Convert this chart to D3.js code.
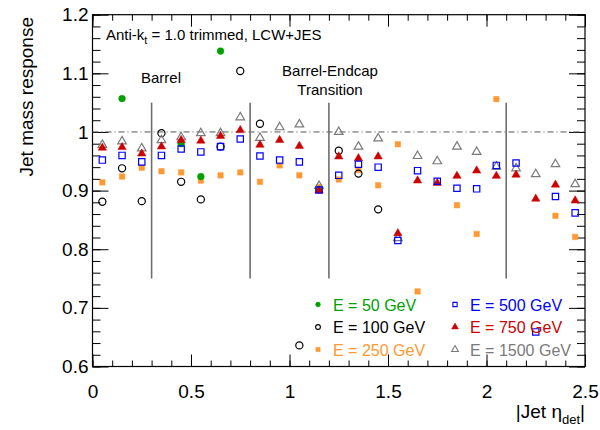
<!DOCTYPE html>
<html>
<head>
<meta charset="utf-8">
<script src="https://cdn.jsdelivr.net/npm/d3@7"></script>
<style>
  body { margin: 0; background: #fff; }
  svg { display: block; font-family: "Liberation Sans", Arial, sans-serif; }
</style>
</head>
<body>
<svg id="chart" width="600" height="430"></svg>
<script>
// ---- Data ----
const etaBins = [0.05,0.15,0.25,0.35,0.45,0.55,0.65,0.75,0.85,0.95,1.05,1.15,1.25,1.35,1.45,1.55,1.65,1.75,1.85,1.95,2.05,2.15,2.25,2.35,2.45];
const e50   = [null,1.057,null,null,0.980,0.924,1.138,null,null,null,null,0.902,null,null,null,null,null,null,null,null,null,null,null,null,null];
const e100  = [0.881,0.938,0.882,0.998,0.915,0.885,0.975,1.104,1.014,null,0.636,null,0.968,0.929,0.868,null,null,null,null,null,null,null,null,null,null];
const e250  = [0.914,0.924,0.939,0.933,0.931,0.917,0.926,0.931,0.915,0.943,0.926,0.906,0.919,0.935,0.909,0.979,0.728,null,0.875,0.826,1.056,null,null,0.857,0.821];
const e500  = [0.952,0.960,0.949,0.960,0.971,0.966,0.975,0.988,0.959,0.952,0.949,0.901,0.926,0.945,0.940,0.815,0.934,0.916,0.904,0.903,0.943,0.947,0.659,0.890,0.862];
const e750  = [0.973,0.974,0.963,0.975,0.986,0.985,0.993,1.003,0.978,0.986,0.976,0.900,0.958,0.955,0.958,0.827,0.917,0.913,0.925,0.934,0.925,0.927,0.886,0.910,0.883];
const e1500 = [0.978,0.984,0.972,0.986,0.991,0.998,0.998,1.025,0.990,1.008,1.013,0.908,1.000,0.975,0.989,0.819,0.959,0.950,0.975,0.966,0.941,0.938,0.928,0.945,0.911];
const seriesNames = ["E = 50 GeV","E = 100 GeV","E = 250 GeV","E = 500 GeV","E = 750 GeV","E = 1500 GeV"];
const regionBounds = [0.3, 0.8, 1.2, 2.1];
const xTicks = [0, 0.5, 1, 1.5, 2, 2.5];
const yTicks = [0.6, 0.7, 0.8, 0.9, 1.0, 1.1, 1.2];

// ---- Layout ----
const svg = d3.select("#chart");
const x = d3.scaleLinear().domain([0, 2.5]).range([92.5, 585]);
const y = d3.scaleLinear().domain([0.6, 1.2]).range([366.5, 14.7]);
const X0 = x.range()[0], X1 = x.range()[1], Y0 = y.range()[0], Y1 = y.range()[1];

// Axes (ticks inward, ROOT style)
const fmt = d => d3.format("")(+d.toFixed(1)).toString();
const xMinor = d3.range(0, 2.5001, 0.1);
const yMinor = d3.range(0.6, 1.2001, 0.02);

function axisGroup(axis, tx, ty, cls) {
  const g = svg.append("g").attr("transform", `translate(${tx},${ty})`).call(axis);
  g.select(".domain").remove();
  g.selectAll("line").attr("stroke", "#000").attr("stroke-width", 1);
  return g;
}
// bottom
axisGroup(d3.axisBottom(x).tickValues(xMinor).tickSize(-6).tickFormat(""), 0, Y0);
const gb = axisGroup(d3.axisBottom(x).tickValues(xTicks).tickSize(-12).tickPadding(18).tickFormat(d => String(d)), 0, Y0);
gb.selectAll("text").attr("font-size", 19).attr("fill", "#000").attr("font-family", "Liberation Sans, Arial, sans-serif");
// top
axisGroup(d3.axisTop(x).tickValues(xMinor).tickSize(-6).tickFormat(""), 0, Y1);
axisGroup(d3.axisTop(x).tickValues(xTicks).tickSize(-12).tickFormat(""), 0, Y1);
// left
axisGroup(d3.axisLeft(y).tickValues(yMinor).tickSize(-8).tickFormat(""), X0, 0);
const gl = axisGroup(d3.axisLeft(y).tickValues(yTicks).tickSize(-16).tickPadding(4).tickFormat(d => String(+d.toFixed(1))), X0, 0);
gl.selectAll("text").attr("font-size", 19).attr("fill", "#000").attr("font-family", "Liberation Sans, Arial, sans-serif");
// right
axisGroup(d3.axisRight(y).tickValues(yMinor).tickSize(-8).tickFormat(""), X1, 0);
axisGroup(d3.axisRight(y).tickValues(yTicks).tickSize(-16).tickFormat(""), X1, 0);

// frame
svg.append("rect").attr("x", X0).attr("y", Y1).attr("width", X1 - X0).attr("height", Y0 - Y1)
  .attr("fill", "none").attr("stroke", "#000").attr("stroke-width", 1.2);

// reference line at 1
svg.append("line").attr("x1", x(0)).attr("x2", x(2.5)).attr("y1", y(1)).attr("y2", y(1))
  .attr("stroke", "#555").attr("stroke-width", 1).attr("stroke-dasharray", "6,3,1,3");

// region separators
svg.selectAll(".sep").data(regionBounds).enter().append("line")
  .attr("x1", d => x(d)).attr("x2", d => x(d)).attr("y1", y(1.05)).attr("y2", y(0.75))
  .attr("stroke", "#6e6e6e").attr("stroke-width", 1.6);

// ---- Markers ----
const styles = [
  {data: e50,   color: "#00a000", fill: true,  type: "circle",   size: 36, textColor: "#00a000"},
  {data: e100,  color: "#000000", fill: false, type: "circle",   size: 40, textColor: "#000000"},
  {data: e250,  color: "#ff9933", fill: true,  type: "square",   size: 30, textColor: "#ff9933"},
  {data: e500,  color: "#0000ff", fill: false, type: "square",   size: 40, textColor: "#0000ff"},
  {data: e750,  color: "#cc0000", fill: true,  type: "triangle", size: 30, textColor: "#cc0000"},
  {data: e1500, color: "#7a7a7a", fill: false, type: "triangle", size: 32, textColor: "#7a7a7a"}
];
const symType = {circle: d3.symbolCircle, square: d3.symbolSquare, triangle: d3.symbolTriangle};

// draw order: so 1500 and 750 appear on top like reference
const order = [2, 1, 0, 5, 4, 3];
order.forEach(i => {
  const s = styles[i];
  const pts = etaBins.map((e, k) => ({e, v: s.data[k]})).filter(p => p.v !== null);
  svg.append("g").selectAll("path").data(pts).enter().append("path")
    .attr("d", d3.symbol().type(symType[s.type]).size(s.size)())
    .attr("transform", d => `translate(${x(d.e)},${y(d.v)})`)
    .attr("fill", s.fill ? s.color : "none")
    .attr("stroke", s.color)
    .attr("stroke-width", s.fill ? 0.5 : 1.2);
});

// ---- Text ----
const t1 = svg.append("text").attr("x", 106).attr("y", 40).attr("font-size", 15).attr("fill", "#000");
t1.append("tspan").text("Anti-k");
t1.append("tspan").attr("font-size", 11).attr("dy", 4).text("t");
t1.append("tspan").attr("dy", -4).text(" = 1.0 trimmed, LCW+JES");

svg.append("text").attr("x", 161).attr("y", 83).attr("text-anchor", "middle").attr("font-size", 15).text("Barrel");
svg.append("text").attr("x", 330).attr("y", 76).attr("text-anchor", "middle").attr("font-size", 15).text("Barrel-Endcap");
svg.append("text").attr("x", 330).attr("y", 95).attr("text-anchor", "middle").attr("font-size", 15).text("Transition");

// axis titles
svg.append("text").attr("transform", "translate(33,17) rotate(-90)").attr("text-anchor", "end")
  .attr("font-size", 19).text("Jet mass response");
const xt = svg.append("text").attr("x", 585).attr("y", 418).attr("text-anchor", "end").attr("font-size", 19);
xt.append("tspan").text("|Jet η");
xt.append("tspan").attr("font-size", 13).attr("dy", 6).text("det");
xt.append("tspan").attr("dy", -6).text("|");

// ---- Legend ----
const legPos = [[318, 304.5], [318, 327], [318, 349.5], [455, 304.5], [455, 327], [455, 349.5]];
styles.forEach((s, i) => {
  const [lx, ly] = legPos[i];
  svg.append("path")
    .attr("d", d3.symbol().type(symType[s.type]).size(s.type === "triangle" ? 20 : 18)())
    .attr("transform", `translate(${lx},${ly})`)
    .attr("fill", s.fill ? s.color : "none")
    .attr("stroke", s.color).attr("stroke-width", s.fill ? 0.5 : 1.1);
  svg.append("text").attr("x", lx + 15).attr("y", ly + 6).attr("font-size", 16)
    .attr("fill", s.textColor).text(seriesNames[i]);
});
</script>
</body>
</html>
